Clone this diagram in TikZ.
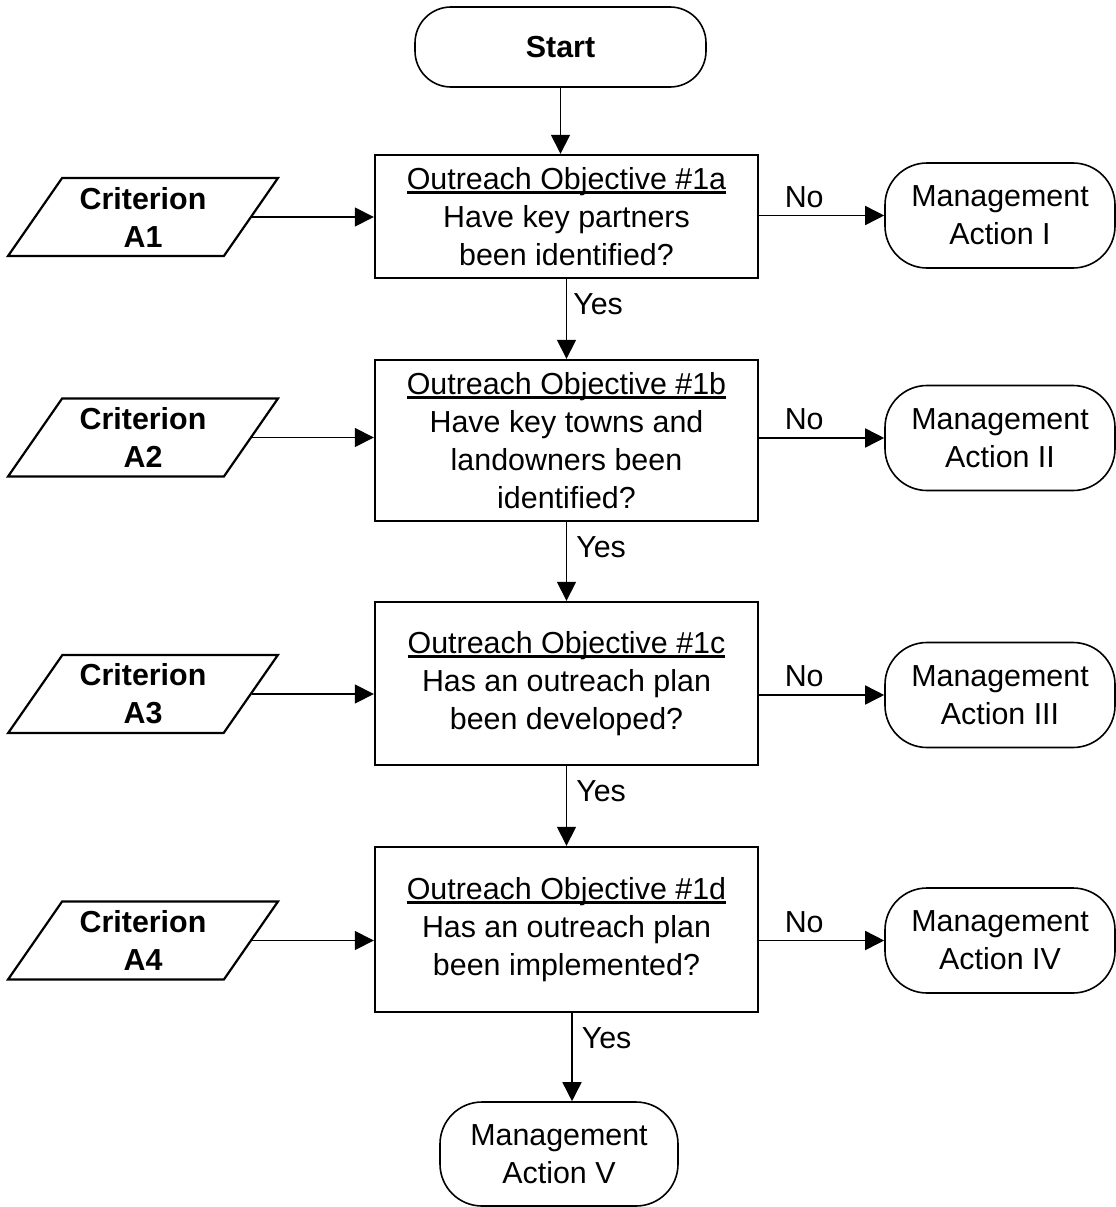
\documentclass[tikz,border=0pt]{standalone}
\usepackage{fontspec}
\setmainfont{Liberation Sans}
\usetikzlibrary{arrows.meta,shapes.geometric}
\newcommand\myul[1]{\setbox0\hbox{#1}\rlap{\rule[-4.2pt]{\wd0}{2.4pt}}\box0}
\tikzset{
  txt/.style={font=\fontsize{30.4}{38}\selectfont},
  qbox/.style={txt, draw, line width=2.4pt, rectangle, minimum width=383pt, inner sep=0pt, align=center},
  crit/.style={draw, line width=2.2pt, trapezium, trapezium left angle=54.8, trapezium right angle=125.2,
    trapezium stretches=true, minimum width=270pt, minimum height=78pt, inner sep=0pt, align=center,
    font=\fontsize{30.4}{38}\selectfont\bfseries},
  term/.style={txt, draw, line width=1.6pt, rectangle, rounded corners=42pt,
    minimum width=230pt, minimum height=105pt, inner sep=0pt, align=center},
  arr/.style={line width=1.6pt, -{Triangle[length=19pt,width=19pt]}},
  lab/.style={txt, inner sep=0pt}
}
\begin{document}
\begin{tikzpicture}[x=1pt,y=-1pt]
\useasboundingbox (0,0) rectangle (1116,1207);
% start
\node[term, minimum width=291pt, minimum height=80pt, rounded corners=36pt, font=\fontsize{30.4}{38}\selectfont\bfseries] (st) at (560.5,47) {Start};
% question boxes
\node[qbox, minimum height=123pt] (b1) at (566.5,216.5) {\myul{Outreach Objective \#1a}\\Have key partners\\been identified?};
\node[qbox, minimum height=161pt] (b2) at (566.5,440.5) {\myul{Outreach Objective \#1b}\\Have key towns and\\landowners been\\identified?};
\node[qbox, minimum height=163pt] (b3) at (566.5,683.5) {\myul{Outreach Objective \#1c}\\Has an outreach plan\\been developed?};
\node[qbox, minimum height=165pt] (b4) at (566.5,929.5) {\myul{Outreach Objective \#1d}\\Has an outreach plan\\been implemented?};
% criteria
\node[crit] (c1) at (143,217) {Criterion\\A1};
\node[crit] (c2) at (143,437.5) {Criterion\\A2};
\node[crit] (c3) at (143,694) {Criterion\\A3};
\node[crit] (c4) at (143,940.5) {Criterion\\A4};
% management actions
\node[term] (m1) at (1000,215.5) {Management\\Action I};
\node[term] (m2) at (1000,438) {Management\\Action II};
\node[term] (m3) at (1000,695) {Management\\Action III};
\node[term] (m4) at (1000,940.5) {Management\\Action IV};
\node[term, minimum width=238pt, minimum height=104pt] (m5) at (559,1154) {Management\\Action V};
% connectors
\draw[arr] (st.south) -- (st.south |- b1.north);
\draw[arr] (b1.south) -- node[pos=0.32, right, lab, xshift=6pt] {Yes} (b2.north);
\draw[arr] (b2.south) -- node[pos=0.32, right, lab, xshift=9pt] {Yes} (b3.north);
\draw[arr] (b3.south) -- node[pos=0.32, right, lab, xshift=9pt] {Yes} (b4.north);
\coordinate (y4) at ([xshift=5.5pt]b4.south);
\draw[arr] (y4) -- node[pos=0.28, right, lab, xshift=9pt] {Yes} (y4 |- m5.north);
\foreach \i in {1,2,3,4}{
  \draw[arr] (c\i.east) -- (c\i.east -| b\i.west);
  \draw[arr] (b\i.east |- m\i.west) -- node[pos=0.36, above, lab, yshift=7pt] {No} (m\i.west);
}
\end{tikzpicture}
\end{document}
